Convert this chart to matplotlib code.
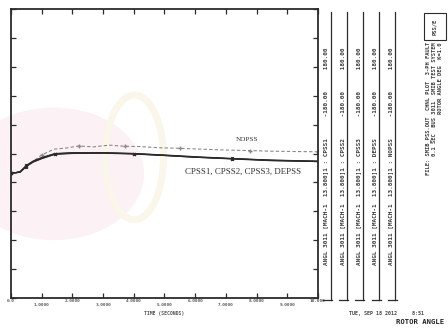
import numpy as np
import matplotlib
matplotlib.use("Agg")
import matplotlib.pyplot as plt
from matplotlib.lines import Line2D
from matplotlib.patches import Ellipse, Rectangle

# rotor angle traces (time in s, angle in plot units)
t_pss = [0.0, 0.15, 0.3, 0.5, 0.72, 1.0, 1.43, 2.0, 3.0, 4.0, 5.0, 6.0, 7.2, 8.5, 10.0]
cpss1 = [43.3, 43.3, 43.6, 45.6, 47.1, 48.3, 49.8, 50.1, 50.2, 50.0, 49.4, 48.8, 48.2, 47.6, 47.2]
cpss2 = [43.3, 43.3, 43.7, 45.8, 47.3, 48.5, 49.9, 50.2, 50.3, 50.0, 49.5, 48.9, 48.3, 47.7, 47.4]
cpss3 = [43.3, 43.4, 43.8, 45.9, 47.4, 48.6, 50.0, 50.3, 50.2, 49.9, 49.3, 48.7, 48.1, 47.5, 47.2]
depss = [43.3, 43.3, 43.5, 45.5, 47.0, 48.2, 49.7, 50.0, 50.1, 49.8, 49.3, 48.7, 48.2, 47.7, 47.3]

t_nopss = [0.0, 0.3, 0.72, 1.0, 1.4, 1.8, 2.2, 2.7, 3.2, 3.7, 4.2, 4.8, 5.5, 6.2, 7.0, 7.8, 8.5, 9.2, 10.0]
nopss = [43.3, 43.8, 47.3, 49.5, 51.5, 51.9, 52.6, 52.3, 52.9, 52.5, 52.4, 52.0, 51.8, 51.5, 51.2, 51.0, 50.8, 50.7, 50.6]

xticks = np.arange(0, 11, 1)
xlabels = ["0.0", "1.0000", "2.0000", "3.0000", "4.0000", "5.0000",
           "6.0000", "7.0000", "8.0000", "9.0000", "10.000"]

channels = [
    "ANGL 3011 [MACH-1  13.800]1 : CPSS1      -180.00      180.00",
    "ANGL 3011 [MACH-1  13.800]1 : CPSS2      -180.00      180.00",
    "ANGL 3011 [MACH-1  13.800]1 : CPSS3      -180.00      180.00",
    "ANGL 3011 [MACH-1  13.800]1 : DEPSS      -180.00      180.00",
    "ANGL 3011 [MACH-1  13.800]1 : NOPSS      -180.00      180.00",
]

ink = "#2b2b2b"
mono = "DejaVu Sans Mono"

fig = plt.figure(figsize=(4.48, 3.28), dpi=100)
fig.patch.set_facecolor("white")

# faint watermark behind the scan
fig.add_artist(Ellipse((0.12, 0.47), 0.40, 0.40, color="#fcf1f4", zorder=0))
fig.add_artist(Ellipse((0.30, 0.52), 0.13, 0.38, fill=False, ec="#faf6ea", lw=5, zorder=0))

ax = fig.add_axes([0.0246, 0.0915, 0.685, 0.881])
ax.patch.set_alpha(0)

ax.plot(t_nopss, nopss, color="#8a8a8a", lw=0.8, ls=(0, (3, 2)), marker="+", ms=2.5, markevery=3)
for vals in [cpss1, cpss2, cpss3, depss]:
    ax.plot(t_pss, vals, color=ink, lw=0.8, marker="x", ms=1.8, markevery=3)

ax.set_xlim(0, 10)
ax.set_ylim(0, 100)
ax.set_xticks(xticks)
ax.set_xticklabels(xlabels, fontsize=3.2, family=mono, color="#555555", fontweight="bold")
ax.set_yticks(np.arange(0, 101, 10))
ax.set_yticklabels([])
ax.tick_params(direction="in", top=True, right=True, length=3.5, width=0.9, color=ink)
for i, tk in enumerate(ax.xaxis.get_major_ticks()):
    tk.set_pad(1.0 if i % 2 == 0 else 3.8)
for s in ax.spines.values():
    s.set_linewidth(1.3)
    s.set_color(ink)
ax.text(5.0, -0.045, "TIME (SECONDS)", transform=ax.get_xaxis_transform(),
        ha="center", va="top", fontsize=3.4, family=mono, color="#555555", fontweight="bold")

ax.text(0.768, 0.547, "NOPSS", transform=ax.transAxes, ha="center", va="center",
        fontsize=5.2, family="Liberation Serif", color="#333333")
ax.text(0.755, 0.438, "CPSS1, CPSS2, CPSS3, DEPSS", transform=ax.transAxes,
        ha="center", va="center", fontsize=6.4, family="Liberation Serif", color="#333333")

# channel strips on the right
W, H = 448.0, 328.0
for k, txt in enumerate(channels):
    xc = 326 + 16.2 * k
    fig.text(xc / W, 1 - 156 / H, txt, rotation=90, ha="center", va="center",
             fontsize=4.3, family=mono, color="#3a3a3a", fontweight="bold")
    fig.add_artist(Line2D([(xc + 4.5) / W] * 2, [1 - 12 / H, 1 - 300 / H], color=ink, lw=0.9))
    fig.add_artist(Line2D([(xc - 3) / W, (xc + 6) / W], [1 - 300 / H] * 2, color=ink, lw=0.9))

# header block
fig.add_artist(Rectangle((424 / W, 1 - 40 / H), 22 / W, 27 / H, fill=False, ec=ink, lw=0.8))
fig.text(435 / W, 1 - 26.5 / H, "PSS/E", rotation=90, ha="center", va="center",
         fontsize=4.0, family=mono, color="#3a3a3a", fontweight="bold")
info = ["FILE: SMIB_PSS.OUT  CHNL PLOT  3-PH FAULT",
        "0.1 SEC  BUS 3011  SMIB TEST SYSTEM",
        "ROTOR ANGLE DEG  K=1.0"]
for k, line in enumerate(info):
    fig.text((428 + 6 * k) / W, 1 - 42 / H, line, rotation=90, ha="center", va="top",
             fontsize=3.9, family=mono, color="#3a3a3a", fontweight="bold")

fig.text(424 / W, 1 - 313 / H, "TUE, SEP 18 2012     8:51", ha="right", va="center",
         fontsize=3.6, family=mono, color="#444444", fontweight="bold")
fig.text(444 / W, 1 - 322 / H, "ROTOR ANGLE", ha="right", va="center",
         fontsize=5.2, family=mono, color="#222222", fontweight="bold")

fig.savefig("out.png", dpi=100)
